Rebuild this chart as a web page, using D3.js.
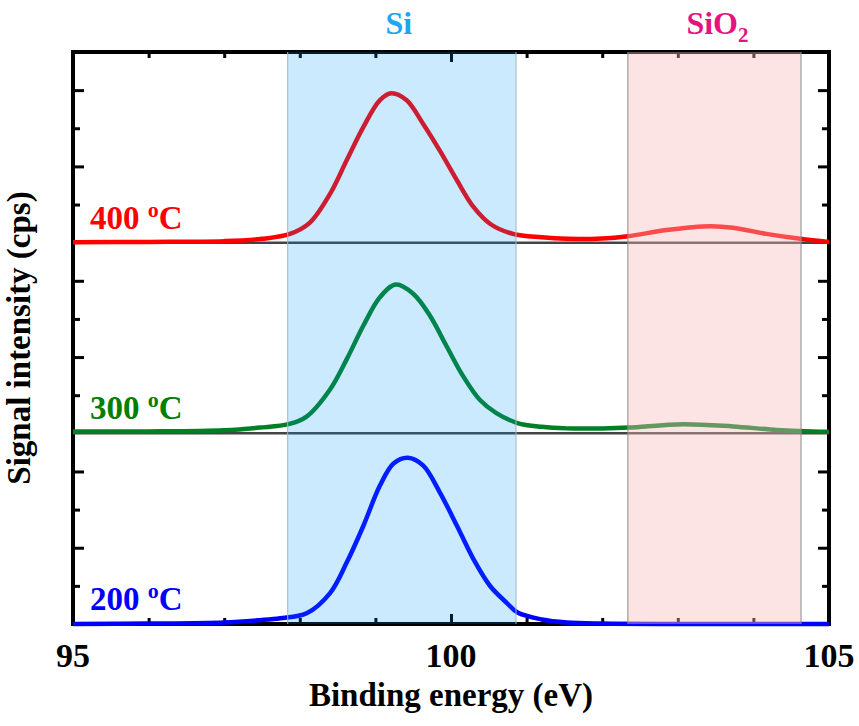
<!DOCTYPE html>
<html>
<head>
<meta charset="utf-8">
<script src="https://cdn.jsdelivr.net/npm/d3@7"></script>
<style>
  body { margin: 0; background: #fff; }
  svg text { font-family: "Liberation Serif", Tinos, "Nimbus Roman", "Nimbus Roman No9 L", FreeSerif, "Noto Serif", "DejaVu Serif", "Times New Roman", Times, serif; font-weight: bold; }
</style>
</head>
<body>
<svg width="859" height="726"></svg>
<script>
// binding energy (eV) / intensity, one pair per temperature
var energy400 = [95, 96, 97, 97.5, 97.87, 98.13, 98.4, 98.62, 98.84, 99.06, 99.21, 99.41, 99.63, 99.85, 100.08, 100.3, 100.52, 100.82, 101.2, 101.53, 102, 102.34, 102.85, 103.43, 103.73, 104.17, 104.62, 105];
var signal400 = [0.01, 0.02, 0.04, 0.10, 0.23, 0.52, 1.28, 2.16, 3.03, 3.74, 3.92, 3.74, 3.12, 2.42, 1.63, 0.93, 0.49, 0.23, 0.14, 0.10, 0.11, 0.17, 0.33, 0.43, 0.39, 0.23, 0.10, 0.02];

var energy300 = [95, 96, 97, 97.47, 97.85, 98.09, 98.4, 98.62, 98.84, 99.06, 99.27, 99.5, 99.72, 99.94, 100.16, 100.38, 100.6, 100.88, 101.2, 101.53, 102, 102.35, 103.07, 103.73, 104.31, 105];
var signal300 = [0.05, 0.05, 0.08, 0.15, 0.24, 0.44, 1.15, 1.94, 2.82, 3.57, 3.90, 3.66, 3.09, 2.29, 1.50, 0.88, 0.53, 0.27, 0.17, 0.13, 0.13, 0.15, 0.24, 0.18, 0.09, 0.04];

var energy200 = [95, 96, 97, 97.47, 97.74, 98.09, 98.4, 98.62, 98.84, 99.06, 99.24, 99.43, 99.63, 99.85, 100.08, 100.3, 100.52, 100.74, 100.88, 101.2, 101.53, 102, 103, 104, 105];
var signal200 = [0.0, 0.01, 0.04, 0.10, 0.15, 0.28, 0.81, 1.61, 2.57, 3.63, 4.21, 4.36, 4.16, 3.46, 2.57, 1.69, 0.99, 0.55, 0.30, 0.12, 0.04, 0.01, 0.0, 0.0, 0.0];

var panelLabels = ["400 ", "300 ", "200 "];
var panelColors = ["#ff0000", "#008024", "#0000ff"];
var labelColors = ["#ff0000", "#008000", "#0000ff"];

var regionNames = ["Si", "SiO"];
var regionStart = [97.84, 102.34];
var regionEnd = [100.86, 104.63];

var xMajor = [95, 100, 105];
var xMinor = [96, 97, 98, 99, 101, 102, 103, 104];
var yMajor = [2, 4];
var yMinor = [1, 3];

var svg = d3.select("svg"),
    margin = {top: 52, right: 30, bottom: 102, left: 73},
    width = +svg.attr("width") - margin.left - margin.right,
    height = +svg.attr("height") - margin.top - margin.bottom,
    g = svg.append("g").attr("transform", "translate(" + margin.left + "," + margin.top + ")");

var x = d3.scaleLinear().domain([95, 105]).range([0, width]);
var panelH = height / 3;

var series = [
  d3.zip(energy400, signal400),
  d3.zip(energy300, signal300),
  d3.zip(energy200, signal200)
];

// ticks of the x axis, top and bottom, pointing inward
function xTicks(axis, vals, size, ty) {
  g.append("g")
      .attr("transform", "translate(0," + ty + ")")
      .call(axis(x).tickValues(vals).tickSize(-size).tickFormat(""))
      .call(function(s) { s.select(".domain").remove(); })
      .selectAll("line").attr("stroke", "#000").attr("stroke-width", 3);
}
xTicks(d3.axisBottom, xMajor, 10, height);
xTicks(d3.axisBottom, xMinor, 6, height);
xTicks(d3.axisTop, xMajor, 10, 0);
xTicks(d3.axisTop, xMinor, 6, 0);

// frame
g.append("rect")
    .attr("width", width).attr("height", height)
    .attr("fill", "none").attr("stroke", "#000").attr("stroke-width", 4);

series.forEach(function(data, i) {
  var y = d3.scaleLinear().domain([0, 5]).range([panelH * (i + 1), panelH * i]);

  [[yMajor, 11], [yMinor, 7]].forEach(function(t) {
    g.append("g")
        .call(d3.axisLeft(y).tickValues(t[0]).tickSize(-t[1]).tickFormat(""))
        .call(function(s) { s.select(".domain").remove(); })
        .selectAll("line").attr("stroke", "#000").attr("stroke-width", 3);
    g.append("g")
        .attr("transform", "translate(" + width + ",0)")
        .call(d3.axisRight(y).tickValues(t[0]).tickSize(-t[1]).tickFormat(""))
        .call(function(s) { s.select(".domain").remove(); })
        .selectAll("line").attr("stroke", "#000").attr("stroke-width", 3);
  });

  if (i < 2) {
    g.append("line")
        .attr("x1", 0).attr("x2", width)
        .attr("y1", y(0)).attr("y2", y(0))
        .attr("stroke", "#444").attr("stroke-width", 2.5);
  }

  var line = d3.line()
      .x(function(d) { return x(d[0]); })
      .y(function(d) { return y(d[1]); })
      .curve(d3.curveCatmullRom.alpha(0.5));

  g.append("path")
      .datum(data)
      .attr("fill", "none")
      .attr("stroke", panelColors[i])
      .attr("stroke-width", 4.5)
      .attr("stroke-linejoin", "round")
      .attr("d", line);

  var lab = g.append("text")
      .attr("x", 17)
      .attr("y", y(0) - 14)
      .attr("font-size", 33)
      .attr("fill", labelColors[i]);
  lab.append("tspan").text(panelLabels[i]);
  lab.append("tspan").attr("font-size", 22).attr("dy", -12).text("o");
  lab.append("tspan").attr("dy", 12).text("C");
});

// shaded Si / SiO2 windows laid over the curves
var fills = ["rgb(0,150,250)", "rgb(250,187,187)"];
var alphas = [0.2, 0.4];
var edges = ["#9fb6c6", "#8a8a8a"];
regionStart.forEach(function(s, i) {
  g.append("rect")
      .attr("x", x(s)).attr("y", 0)
      .attr("width", x(regionEnd[i]) - x(s)).attr("height", height)
      .attr("fill", fills[i]).attr("fill-opacity", alphas[i])
      .attr("stroke", "none");
  [s, regionEnd[i]].forEach(function(e) {
    g.append("line")
        .attr("x1", x(e)).attr("x2", x(e))
        .attr("y1", 0).attr("y2", height)
        .attr("stroke", edges[i]).attr("stroke-width", 1);
  });
});

// region titles
g.append("text")
    .attr("x", x((regionStart[0] + regionEnd[0]) / 2) - 3)
    .attr("y", -18)
    .attr("text-anchor", "middle")
    .attr("font-size", 32)
    .attr("fill", "#1ea6f2")
    .text(regionNames[0]);

var sio = g.append("text")
    .attr("x", x((regionStart[1] + regionEnd[1]) / 2) + 3)
    .attr("y", -18)
    .attr("text-anchor", "middle")
    .attr("font-size", 32)
    .attr("fill", "#e8127f");
sio.append("tspan").text(regionNames[1]);
sio.append("tspan").attr("font-size", 21).attr("dy", 8).text("2");

// x labels
g.append("g").selectAll("text")
    .data(xMajor)
    .enter().append("text")
      .attr("x", function(d) { return x(d); })
      .attr("y", 43)
      .attr("transform", "translate(0," + height + ")")
      .attr("text-anchor", "middle")
      .attr("font-size", 34)
      .text(function(d) { return d; });

g.append("text")
    .attr("x", width / 2)
    .attr("y", height + 82)
    .attr("text-anchor", "middle")
    .attr("font-size", 33)
    .text("Binding energy (eV)");

g.append("text")
    .attr("transform", "translate(-43," + height / 2 + ") rotate(-90)")
    .attr("text-anchor", "middle")
    .attr("font-size", 33)
    .text("Signal intensity (cps)");
</script>
</body>
</html>
